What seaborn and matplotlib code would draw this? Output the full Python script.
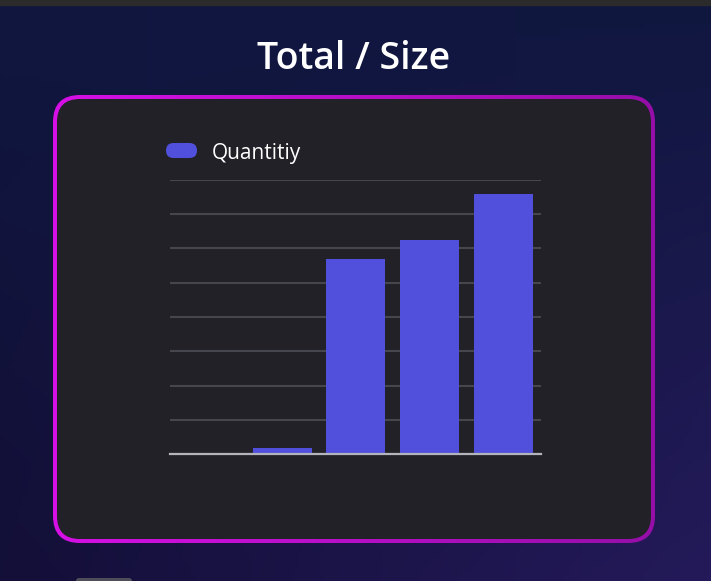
import numpy as np
import pandas as pd
import matplotlib
matplotlib.use("Agg")
import matplotlib.pyplot as plt
from matplotlib.patches import FancyBboxPatch, Rectangle
import seaborn as sns

# data
sizes = ["XS", "S", "M", "L", "XL"]
quantity = [0, 1.8, 57, 62.5, 76]
series_name = "Quantitiy"
chart_title = "Total / Size"

W, H = 711, 581
sns.set_theme(style="dark")
plt.rcParams['font.family'] = ['Open Sans', 'DejaVu Sans']

fig = plt.figure(figsize=(W / 100, H / 100), dpi=100)

# background in pixel coordinates
bg = fig.add_axes([0, 0, 1, 1])
bg.set_xlim(0, W)
bg.set_ylim(H, 0)
bg.axis("off")

top = np.array([16, 23, 63]) / 255
bl = np.array([19, 15, 56]) / 255
br = np.array([36, 26, 90]) / 255
yy, xx = np.mgrid[0:1:120j, 0:1:160j]
grad = (top[None, None, :] * (1 - yy[..., None])
        + (bl[None, None, :] * (1 - xx[..., None]) + br[None, None, :] * xx[..., None]) * yy[..., None])
bg.imshow(grad, extent=(0, W, H, 0), aspect="auto", zorder=0)
bg.add_patch(Rectangle((0, 0), W, 5, color="#2b2b2c", zorder=1))

# card with gradient border
x0, y0, x1, y1 = 53, 95, 655, 543
outer = FancyBboxPatch((x0, y0), x1 - x0, y1 - y0, boxstyle="round,pad=0,rounding_size=27",
                       facecolor="none", edgecolor="none", zorder=2)
bg.add_patch(outer)
bgrad = np.linspace(0, 1, 200)[None, :, None]
c_l = np.array([214, 16, 230]) / 255
c_r = np.array([150, 14, 168]) / 255
border = c_l * (1 - bgrad) + c_r * bgrad
im = bg.imshow(np.repeat(border, 2, axis=0), extent=(x0, x1, y1, y0), aspect="auto", zorder=2)
im.set_clip_path(outer)
b = 4
bg.add_patch(FancyBboxPatch((x0 + b, y0 + b), x1 - x0 - 2 * b, y1 - y0 - 2 * b,
                            boxstyle="round,pad=0,rounding_size=23",
                            facecolor="#212127", edgecolor="none", zorder=3))

# small element at bottom edge
bg.add_patch(FancyBboxPatch((76, 578), 56, 6, boxstyle="round,pad=0,rounding_size=3",
                            facecolor="#4e4e5a", edgecolor="none", zorder=2))

# title
fig.text(354 / W, 1 - 59 / H, chart_title, color="white", fontsize=27,
         ha="center", va="center", fontweight="semibold")

# legend
bg.add_patch(FancyBboxPatch((166, 143), 31, 15, boxstyle="round,pad=0,rounding_size=7.5",
                            facecolor="#5050dc", edgecolor="none", zorder=4))
fig.text(212 / W, 1 - 154 / H, series_name, color="white", fontsize=15,
         ha="left", va="center")

# chart
ax = fig.add_axes([170 / W, 1 - 454 / H, 371 / W, 274 / H])
ax.patch.set_alpha(0)
df = pd.DataFrame({"size": sizes, "quantity": quantity})
sns.barplot(data=df, x="size", y="quantity", color="#5050dc", saturation=1,
            width=0.8, linewidth=0, ax=ax, zorder=3)
ax.set_ylim(0, 80)
ax.set_yticks(np.arange(0, 81, 10))
ax.set_xlim(-0.52, 4.51)
ax.yaxis.grid(True, color="#46464e", linewidth=1.5)
ax.xaxis.grid(False)
ax.set_axisbelow(True)
ax.tick_params(left=False, bottom=False, labelleft=False, labelbottom=False)
ax.set_xlabel("")
ax.set_ylabel("")
for s in ["top", "left", "right"]:
    ax.spines[s].set_visible(False)
ax.spines["bottom"].set_color("#b4b4bc")
ax.spines["bottom"].set_linewidth(1.6)
ax.spines["bottom"].set_zorder(5)

fig.savefig("out.png", dpi=100)
